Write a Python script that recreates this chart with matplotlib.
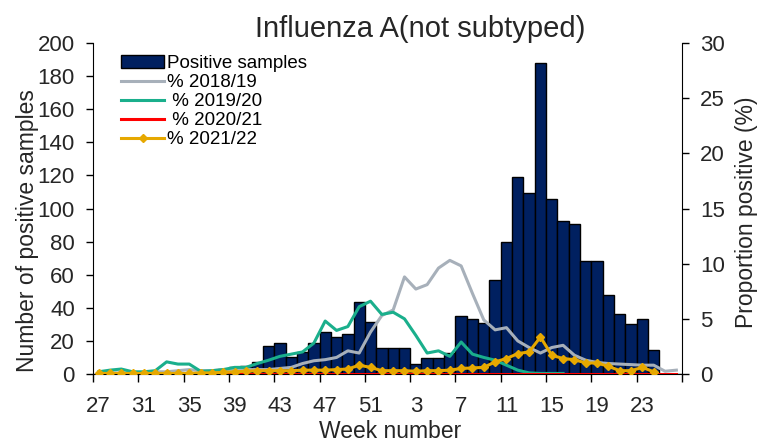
import matplotlib.pyplot as plt
import numpy as np

plt.rcParams['font.family'] = ['Liberation Sans', 'DejaVu Sans']

weeks = list(range(27, 53)) + list(range(1, 27))
week_labels = [str(w) for w in weeks]

positive = [0, 0, 0, 0, 0, 0, 0, 0, 0, 0, 1, 3, 4, 5, 7, 17, 19, 10, 13, 19, 25.5, 22.5, 24, 43.5, 31.5, 15.5,
            15.5, 15.5, 6, 9.6, 9.6, 12.5, 35, 33.5, 31, 57, 79.5, 119, 109.5, 188, 105.5, 92.5, 90.5, 68, 68.5,
            48, 36, 30, 33.5, 14.5, 0, 0]

pct_1819 = [0.1, 0.1, 0.1, 0.1, 0.1, 0.2, 0.2, 0.3, 0.4, 0.3, 0.3, 0.4, 0.4, 0.4, 0.4, 0.4, 0.5, 0.6, 0.95,
            1.2, 1.3, 1.5, 2.1, 1.9, 3.8, 5.3, 5.8, 8.8, 7.7, 8.1, 9.6, 10.3, 9.8, 7.3, 4.9, 4.0, 4.2, 3.0,
            2.4, 1.9, 2.4, 2.6, 1.7, 1.25, 1.05, 0.95, 0.9, 0.85, 0.8, 0.8, 0.25, 0.35]

pct_1920 = [0.2, 0.35, 0.45, 0.2, 0.2, 0.3, 1.1, 0.9, 0.9, 0.25, 0.3, 0.4, 0.6, 0.6, 0.95, 1.25, 1.6, 1.8,
            2.0, 2.8, 4.8, 3.95, 4.3, 6.1, 6.6, 5.4, 5.6, 5.0, 3.5, 1.9, 2.1, 1.6, 2.9, 1.8, 1.5, 1.25, 0.8,
            0.35, 0.1, 0.05, 0.05, 0.05] + [np.nan] * 10

pct_2021 = [0.0] * 52

pct_2122 = [0.05, 0.05, 0.05, 0.05, 0.05, 0.05, 0.05, 0.05, 0.05, 0.1, 0.1, 0.15, 0.2, 0.25, 0.3, 0.3, 0.3,
            0.3, 0.35, 0.35, 0.35, 0.4, 0.45, 0.8, 0.6, 0.3, 0.3, 0.3, 0.25, 0.3, 0.3, 0.35, 0.5, 0.55, 0.6,
            1.1, 1.4, 1.85, 2.0, 3.35, 1.7, 1.4, 1.3, 1.0, 1.0, 0.7, 0.3, 0.3, 0.6, 0.2] + [np.nan] * 2

x = np.arange(len(weeks))
txt = "#262626"

fig = plt.figure(figsize=(7.59, 4.47), dpi=100)
ax = fig.add_axes([0.1225, 0.1633, 0.7761, 0.7405])
ax2 = ax.twinx()

bars = ax.bar(x, positive, width=1.0, color="#002060", edgecolor="black", linewidth=1.0,
              label="Positive samples")

l1, = ax2.plot(x, pct_1819, color="#A7B0BA", lw=2.2, label="% 2018/19")
l2, = ax2.plot(x, pct_1920, color="#1AAF8C", lw=2.2, label=" % 2019/20")
l3, = ax2.plot(x, pct_2021, color="#FF0000", lw=2.2, label=" % 2020/21")
l4, = ax2.plot(x, pct_2122, color="#E6A800", lw=2.2, marker="D", markersize=4.5, label="% 2021/22")

ax.set_xlim(-0.5, len(weeks) - 0.5)
ax.set_ylim(0, 200)
ax.set_yticks(range(0, 201, 20))
ax2.set_ylim(0, 30)
ax2.set_yticks(range(0, 31, 5))

# tick marks on category boundaries, labels on every 4th week
ax.set_xticks(np.arange(-0.5, len(weeks), 4))
ax.set_xticklabels([])
ax.set_xticks(x[::4], week_labels[::4], minor=True)
ax.tick_params(axis="x", which="minor", length=0, pad=16, labelsize=16, labelcolor=txt)
ax.tick_params(axis="x", which="major", length=6, width=1, direction="out")
ax.tick_params(axis="y", length=5, width=1, pad=8, labelsize=16, labelcolor=txt)
ax2.tick_params(axis="y", length=5, width=1, pad=8, labelsize=16, labelcolor=txt)

for a in (ax, ax2):
    a.spines["top"].set_visible(False)
ax.spines["right"].set_visible(False)
ax2.spines["left"].set_visible(False)
ax2.spines["bottom"].set_visible(False)

fig.text(28 / 759, 1 - 231 / 447, "Number of positive samples", rotation=90, ha="center", va="center",
         fontsize=16.5, color=txt)
fig.text(747 / 759, 1 - 212 / 447, "Proportion positive (%)", rotation=90, ha="center", va="center",
         fontsize=16.5, color=txt)
fig.text(390 / 759, 1 - 432 / 447, "Week number", ha="center", va="center", fontsize=16.5, color=txt)

fig.text(420 / 759, 1 - 29 / 447, "Influenza A(not subtyped)", ha="center", va="center", fontsize=21,
         color=txt)

ax2.legend(handles=[bars, l1, l2, l3, l4], loc="upper left", bbox_to_anchor=(0.048, 0.963),
           frameon=False, fontsize=13.5, labelspacing=0.1, handlelength=2.3, handletextpad=0.15,
           borderpad=0, borderaxespad=0)

fig.savefig("out.png", dpi=100)
